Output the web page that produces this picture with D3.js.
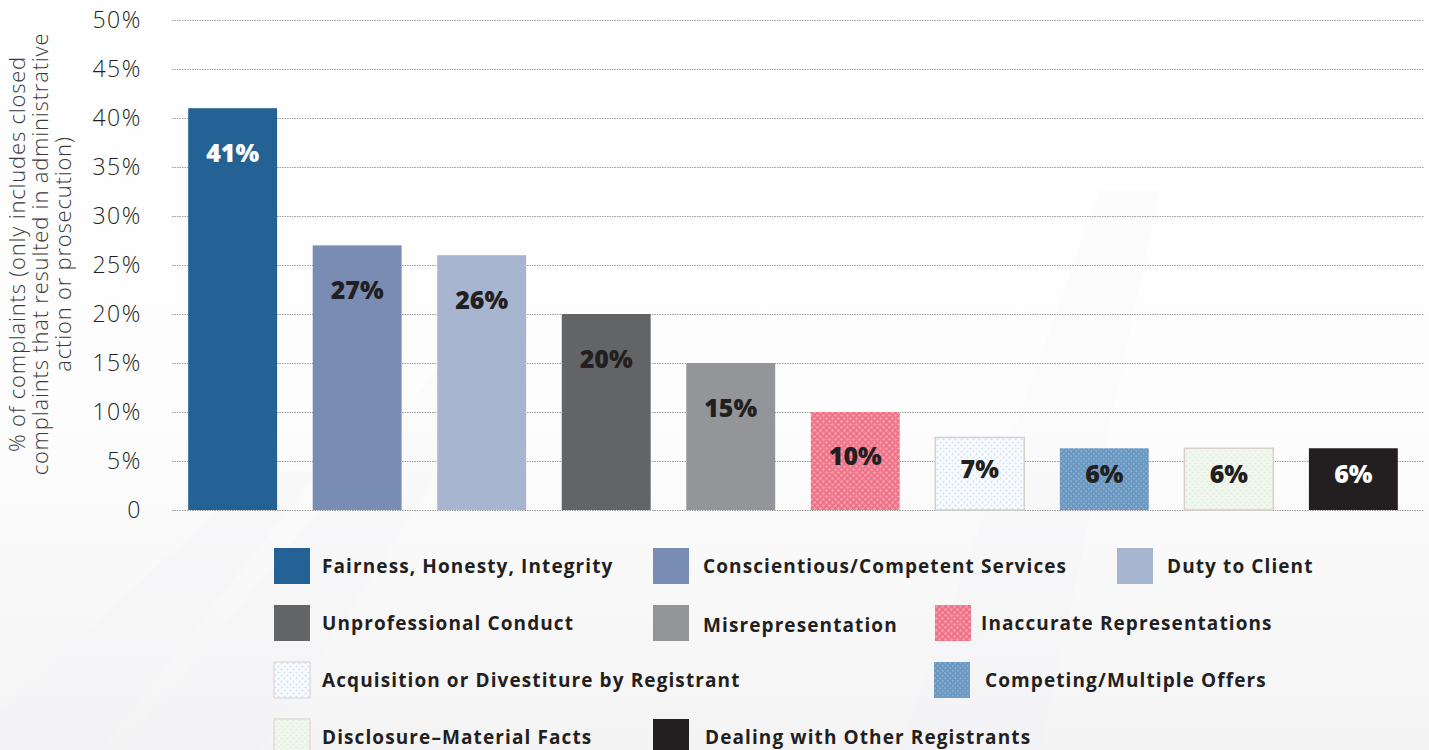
<!DOCTYPE html>
<html>
<head>
<meta charset="utf-8">
<script src="https://cdnjs.cloudflare.com/ajax/libs/d3/7.8.5/d3.min.js"></script>
<style>
  html, body { margin: 0; padding: 0; background: #fff; }
  #chart { width: 1429px; height: 750px; }
  text { font-family: "Open Sans", "DejaVu Sans", sans-serif; }
</style>
</head>
<body>
<div id="chart"></div>
<script>
// data
var categories = ["Fairness, Honesty, Integrity", "Conscientious/Competent Services", "Duty to Client",
  "Unprofessional Conduct", "Misrepresentation", "Inaccurate Representations",
  "Acquisition or Divestiture by Registrant", "Competing/Multiple Offers",
  "Disclosure\u2013Material Facts", "Dealing with Other Registrants"];
var values = [41, 27, 26, 20, 15, 10, 7.4, 6.3, 6.3, 6.3];
var yTicks = [0, 5, 10, 15, 20, 25, 30, 35, 40, 45, 50];

// fills (plain colour or pattern id) and label colours
var fills = ["#246194", "#798db4", "#a8b5d0", "#636466", "#939598",
  "url(#pPink)", "url(#pPale)", "url(#pBlue)", "url(#pGreen)", "#231f20"];
var borders = [null, null, null, null, null, null, "#d6d0ca", null, "#d6d0ca", null];
var labelColors = ["#fff", "#231f20", "#231f20", "#231f20", "#231f20", "#231f20", "#231f20", "#231f20", "#231f20", "#fff"];

// legend layout: [x of swatch, row]
var legendPos = [[274, 0], [653, 0], [1117, 0], [274, 1], [653, 1], [935, 1], [274, 2], [934, 2], [274, 3], [653, 3]];
var legendTextDx = [48, 50, 50, 48, 50, 46, 48, 51, 48, 52];
var legendRowDy = [0, 0, 0, 0, 2, 0, 0, 0, 0, 0];

var W = 1429, H = 750;
var svg = d3.select("#chart").append("svg").attr("width", W).attr("height", H);

var defs = svg.append("defs");
// faint background wash
var bg = defs.append("linearGradient").attr("id", "bgGrad").attr("x1", 0).attr("y1", 0).attr("x2", 0).attr("y2", 1);
bg.append("stop").attr("offset", "0%").attr("stop-color", "#ffffff");
bg.append("stop").attr("offset", "55%").attr("stop-color", "#fdfdfd");
bg.append("stop").attr("offset", "100%").attr("stop-color", "#f4f4f5");

// patterns
function dotPattern(id, base, dot, size, r) {
  var p = defs.append("pattern").attr("id", id).attr("patternUnits", "userSpaceOnUse")
    .attr("width", size).attr("height", size);
  p.append("rect").attr("width", size).attr("height", size).attr("fill", base);
  p.append("circle").attr("cx", size / 4).attr("cy", size / 4).attr("r", r).attr("fill", dot);
  p.append("circle").attr("cx", size * 3 / 4).attr("cy", size * 3 / 4).attr("r", r).attr("fill", dot);
}
dotPattern("pPink", "#ee7489", "#f5a3b0", 6, 1.2);
dotPattern("pPale", "#f8fbfe", "#d4e2f1", 6, 1.1);
dotPattern("pBlue", "#6a98c1", "#8cb2d3", 5, 0.9);
dotPattern("pGreen", "#f1f7ee", "#e1eedb", 6, 1.1);

svg.append("rect").attr("width", W).attr("height", H).attr("fill", "url(#bgGrad)");
// subtle diagonal streaks in the background
var streaks = [[-40, 750, 260, 470], [120, 750, 470, 330], [900, 750, 1100, 190]];
streaks.forEach(function (s) {
  svg.append("path")
    .attr("d", "M" + s[0] + "," + s[1] + " L" + s[2] + "," + s[3] + " L" + (s[2] + 60) + "," + s[3] + " L" + (s[0] + 140) + "," + s[1] + "Z")
    .attr("fill", "#f2f2f3").attr("opacity", 0.12);
});

var y = d3.scaleLinear().domain([0, 50]).range([510, 20]);
var x = d3.scaleBand().domain(categories).range([172, 1414]).paddingInner(0.286).paddingOuter(0.13);

// gridlines
svg.append("g").selectAll("line").data(yTicks).enter().append("line")
  .attr("x1", 172).attr("x2", 1424)
  .attr("y1", function (d) { return y(d) + 0.5; })
  .attr("y2", function (d) { return y(d) + 0.5; })
  .attr("stroke", "#9d9d9d").attr("stroke-width", 1).attr("stroke-dasharray", "1.5,1");

// y axis labels
var yAxis = d3.axisLeft(y).tickValues(yTicks).tickSize(0).tickPadding(0)
  .tickFormat(function (d) { return d === 0 ? "0" : d + "%"; });
var gy = svg.append("g").attr("transform", "translate(142,0)").call(yAxis);
gy.select(".domain").remove();
gy.selectAll("text").attr("font-size", "23px").attr("fill", "#231f20")
  .attr("font-family", "'Open Sans', sans-serif").attr("font-weight", 300)
  .attr("letter-spacing", "1.6px").attr("dy", "0.34em");

// y title
var title = ["% of complaints (only includes closed", "complaints that resulted in administrative", "action or prosecution)"];
svg.append("g").selectAll("text").data(title).enter().append("text")
  .attr("transform", function (d, i) { return "translate(" + (25 + i * 23) + ",254) rotate(-90)"; })
  .attr("text-anchor", "middle").attr("font-size", "22px").attr("font-weight", 300)
  .attr("letter-spacing", "0.8px")
  .attr("fill", "#3a3a3c").text(function (d) { return d; });

// bars
var bars = svg.append("g").selectAll("g").data(categories).enter().append("g");
bars.append("rect")
  .attr("x", function (d) { return x(d); })
  .attr("y", function (d, i) { return y(values[i]); })
  .attr("width", x.bandwidth())
  .attr("height", function (d, i) { return y(0) - y(values[i]); })
  .attr("fill", function (d, i) { return fills[i]; })
  .attr("stroke", function (d, i) { return borders[i] || "none"; })
  .attr("stroke-width", 1.5);

bars.append("text")
  .attr("x", function (d) { return x(d) + x.bandwidth() / 2; })
  .attr("y", function (d, i) {
    var top = y(values[i]);
    return Math.min(top + 45, (top + y(0)) / 2 - 5);
  })
  .attr("dy", "0.36em")
  .attr("text-anchor", "middle").attr("font-size", "25px").attr("font-weight", 800)
  .attr("fill", function (d, i) { return labelColors[i]; })
  .text(function (d, i) { return Math.round(values[i]) + "%"; });

// legend
var leg = svg.append("g").selectAll("g").data(categories).enter().append("g")
  .attr("transform", function (d, i) { return "translate(" + legendPos[i][0] + "," + (548 + legendPos[i][1] * 57) + ")"; });
leg.append("rect").attr("width", 36).attr("height", 36)
  .attr("fill", function (d, i) { return fills[i]; })
  .attr("stroke", function (d, i) { return borders[i] || "none"; })
  .attr("stroke-width", 1);
leg.append("text")
  .attr("x", function (d, i) { return legendTextDx[i]; })
  .attr("y", function (d, i) { return 18 + legendRowDy[i]; })
  .attr("dy", "0.35em")
  .attr("font-size", "19px").attr("font-weight", 700).attr("fill", "#231f20")
  .attr("letter-spacing", "1.1px")
  .text(function (d) { return d; });
</script>
</body>
</html>
